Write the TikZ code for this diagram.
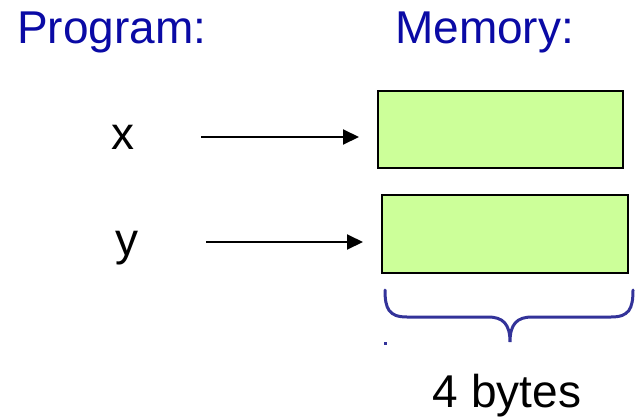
\documentclass[tikz,border=0pt]{standalone}
\usepackage{fontspec}
\setmainfont{Liberation Sans}
\usetikzlibrary{arrows.meta}
\definecolor{titleblue}{RGB}{10,10,165}
\definecolor{braceblue}{RGB}{51,51,153}
\definecolor{cellgreen}{RGB}{204,255,153}
\tikzstyle{title} = [font=\fontsize{46}{52}\selectfont, text=titleblue, inner sep=0pt]
\tikzstyle{varname} = [font=\fontsize{46}{52}\selectfont, inner sep=0pt]
\tikzstyle{cell} = [rectangle, draw=black, line width=2pt, fill=cellgreen, inner sep=0pt, anchor=north west]
\tikzstyle{arrow} = [line width=2pt, -{Triangle[length=16pt,width=15pt]}, shorten >=18pt]
\tikzstyle{brace} = [draw=braceblue, line width=3pt, line cap=round]

\begin{document}
\begin{tikzpicture}[x=1pt,y=-1pt]
                 \useasboundingbox (0,0) rectangle (637,418);
                 \node [title, anchor=base west] at (17,43) (prog) {Program:};
                 \node [title, anchor=base west] at (395,43) (mem) {Memory:};
                 \node [varname, anchor=base] at (123,149) (x) {x};
                 \node [varname, anchor=base] at (127,255) (y) {y};
                 \node [cell, minimum width=245pt, minimum height=77pt] at (377,90) (cellx) {};
                 \node [cell, minimum width=246pt, minimum height=78pt] at (381,194) (celly) {};
                 \coordinate (xtail) at (201,137);
                 \coordinate (ytail) at (206,242);
                 \draw [arrow] (xtail) -- (xtail -| cellx.west);
                 \draw [arrow] (ytail) -- (ytail -| celly.west);
                 \draw [brace] (385,290) .. controls (385,309) and (389,317) .. (407,317) -- (488,317)
                       .. controls (503,317) and (510,324) .. (510,342)
                       .. controls (510,324) and (517,317) .. (532,317) -- (611,317)
                       .. controls (629,317) and (633,309) .. (633,290);
                 \fill [braceblue] (383.5,341.5) rectangle (387,345);
                 \node [varname, anchor=base] at (507,407) (size) {4 bytes};
                 \end{tikzpicture}
\end{document}
